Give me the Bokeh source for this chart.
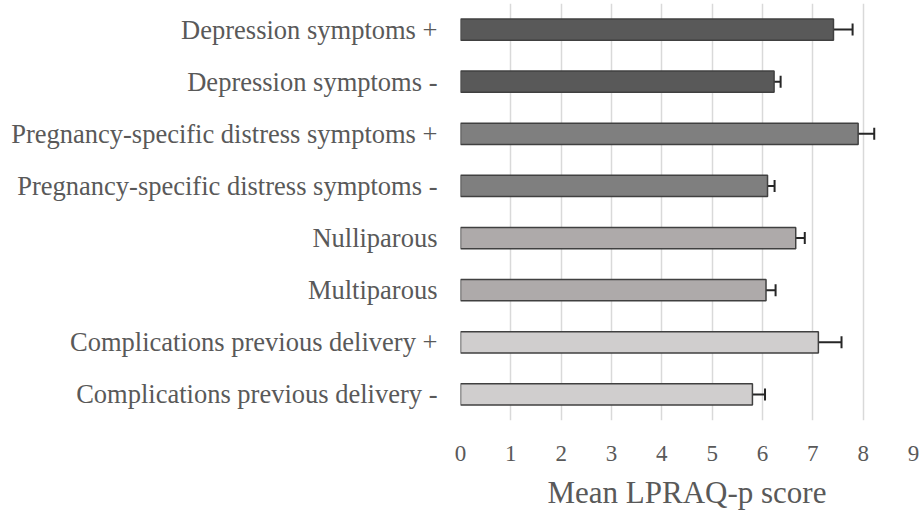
from bokeh.plotting import figure
from bokeh.models import ColumnDataSource, Range1d, FixedTicker, Whisker, TeeHead
from bokeh.embed import file_html
from bokeh.resources import INLINE

categories = [
    "Depression symptoms +",
    "Depression symptoms -",
    "Pregnancy-specific distress symptoms +",
    "Pregnancy-specific distress symptoms -",
    "Nulliparous",
    "Multiparous",
    "Complications previous delivery +",
    "Complications previous delivery -",
]
means = [7.41, 6.23, 7.90, 6.10, 6.66, 6.07, 7.11, 5.80]
errors = [0.38, 0.13, 0.32, 0.14, 0.18, 0.19, 0.46, 0.25]
colors = ["#595959", "#595959", "#7f7f7f", "#7f7f7f",
          "#aeaaaa", "#aeaaaa", "#d0cece", "#d0cece"]
x_ticks = list(range(0, 10))
x_title = "Mean LPRAQ-p score"

pos = list(range(len(categories)))
src = ColumnDataSource(dict(
    y=pos, mean=means, color=colors,
    lower=[m - e for m, e in zip(means, errors)],
    upper=[m + e for m, e in zip(means, errors)],
))

p = figure(width=921, height=512, output_backend="svg", toolbar_location=None,
           x_range=Range1d(0, 9), y_range=Range1d(7.5, -0.5),
           min_border_left=460, min_border_right=8, min_border_top=3,
           min_border_bottom=89)
p.outline_line_color = None
p.background_fill_color = "white"

p.hbar(y="y", left=0, right="mean", height=0.41, fill_color="color",
       line_color="#404040", line_width=1.5, source=src)

w = Whisker(base="y", lower="lower", upper="upper", dimension="width", source=src,
            line_color="#262626", line_width=2,
            lower_head=TeeHead(size=12, line_color="#262626", line_width=2),
            upper_head=TeeHead(size=12, line_color="#262626", line_width=2))
p.add_layout(w)

# x axis
p.xaxis.ticker = FixedTicker(ticks=x_ticks)
p.xaxis.axis_line_color = None
p.xaxis.major_tick_line_color = None
p.xaxis.minor_tick_line_color = None
p.xaxis.major_label_text_font = "Liberation Serif"
p.xaxis.major_label_text_font_size = "23px"
p.xaxis.major_label_text_color = "#595959"
p.xaxis.major_label_standoff = 19
p.xaxis.axis_label = x_title
p.xaxis.axis_label_text_font = "Liberation Serif"
p.xaxis.axis_label_text_font_size = "31px"
p.xaxis.axis_label_text_font_style = "normal"
p.xaxis.axis_label_text_color = "#595959"
p.xaxis.axis_label_standoff = 11

# y axis
p.yaxis.ticker = FixedTicker(ticks=pos)
p.yaxis.major_label_overrides = {i: c for i, c in zip(pos, categories)}
p.yaxis.axis_line_color = None
p.yaxis.major_tick_line_color = None
p.yaxis.minor_tick_line_color = None
p.yaxis.major_label_text_font = "Liberation Serif"
p.yaxis.major_label_text_font_size = "26.5px"
p.yaxis.major_label_text_color = "#595959"
p.yaxis.major_label_standoff = 17

p.xgrid.grid_line_color = "#d9d9d9"
p.xgrid.grid_line_width = 1.5
p.ygrid.grid_line_color = None

open("out.html", "w").write(file_html(p, INLINE))
